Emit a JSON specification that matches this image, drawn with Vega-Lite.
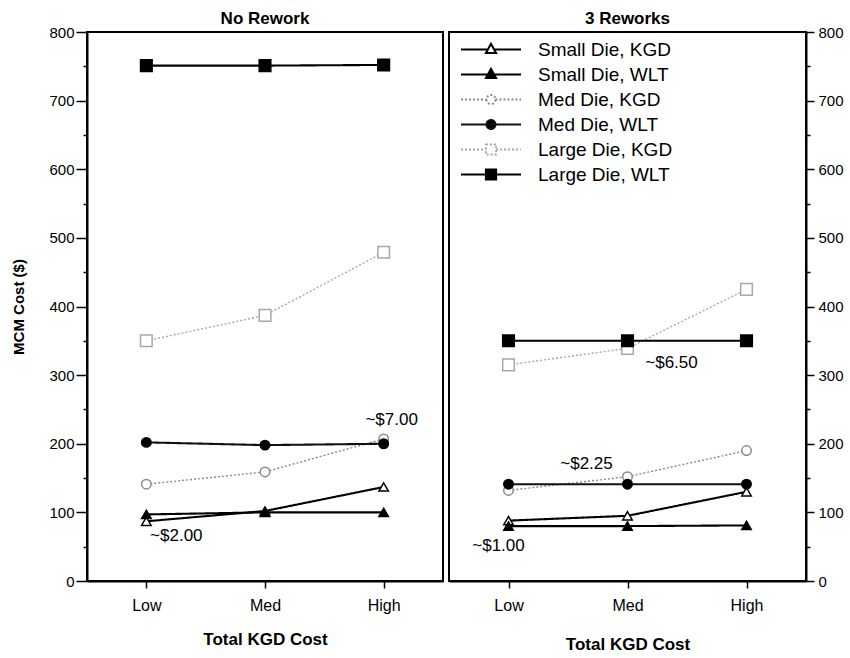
{
  "$schema": "https://vega.github.io/schema/vega-lite/v6.json",
  "background": "white",
  "padding": {"left": 10, "top": 9, "right": 0, "bottom": 0},
  "spacing": 4,
  "config": {
    "font": "Liberation Sans",
    "view": {"stroke": "black", "strokeWidth": 2},
    "axis": {"grid": false, "domainColor": "black", "domainWidth": 2, "tickColor": "black", "tickWidth": 1.5, "labelColor": "black", "titleColor": "black", "labelFont": "Liberation Sans", "titleFont": "Liberation Sans"},
    "title": {"fontSize": 17, "fontWeight": "bold", "color": "black", "font": "Liberation Sans", "offset": -3}
  },
  "datasets": {
    "series": [
      {"panel": "No Rework", "s": "Small Die, KGD", "level": "Low", "cost": 87},
      {"panel": "No Rework", "s": "Small Die, KGD", "level": "Med", "cost": 102},
      {"panel": "No Rework", "s": "Small Die, KGD", "level": "High", "cost": 137},
      {"panel": "No Rework", "s": "Small Die, WLT", "level": "Low", "cost": 97},
      {"panel": "No Rework", "s": "Small Die, WLT", "level": "Med", "cost": 100},
      {"panel": "No Rework", "s": "Small Die, WLT", "level": "High", "cost": 100},
      {"panel": "No Rework", "s": "Med Die, KGD", "level": "Low", "cost": 141},
      {"panel": "No Rework", "s": "Med Die, KGD", "level": "Med", "cost": 159},
      {"panel": "No Rework", "s": "Med Die, KGD", "level": "High", "cost": 207},
      {"panel": "No Rework", "s": "Med Die, WLT", "level": "Low", "cost": 202},
      {"panel": "No Rework", "s": "Med Die, WLT", "level": "Med", "cost": 198},
      {"panel": "No Rework", "s": "Med Die, WLT", "level": "High", "cost": 200},
      {"panel": "No Rework", "s": "Large Die, KGD", "level": "Low", "cost": 350},
      {"panel": "No Rework", "s": "Large Die, KGD", "level": "Med", "cost": 387},
      {"panel": "No Rework", "s": "Large Die, KGD", "level": "High", "cost": 479},
      {"panel": "No Rework", "s": "Large Die, WLT", "level": "Low", "cost": 751},
      {"panel": "No Rework", "s": "Large Die, WLT", "level": "Med", "cost": 751},
      {"panel": "No Rework", "s": "Large Die, WLT", "level": "High", "cost": 752},
      {"panel": "3 Reworks", "s": "Small Die, KGD", "level": "Low", "cost": 88},
      {"panel": "3 Reworks", "s": "Small Die, KGD", "level": "Med", "cost": 95},
      {"panel": "3 Reworks", "s": "Small Die, KGD", "level": "High", "cost": 130},
      {"panel": "3 Reworks", "s": "Small Die, WLT", "level": "Low", "cost": 80},
      {"panel": "3 Reworks", "s": "Small Die, WLT", "level": "Med", "cost": 80},
      {"panel": "3 Reworks", "s": "Small Die, WLT", "level": "High", "cost": 81},
      {"panel": "3 Reworks", "s": "Med Die, KGD", "level": "Low", "cost": 132},
      {"panel": "3 Reworks", "s": "Med Die, KGD", "level": "Med", "cost": 152},
      {"panel": "3 Reworks", "s": "Med Die, KGD", "level": "High", "cost": 190},
      {"panel": "3 Reworks", "s": "Med Die, WLT", "level": "Low", "cost": 141},
      {"panel": "3 Reworks", "s": "Med Die, WLT", "level": "Med", "cost": 141},
      {"panel": "3 Reworks", "s": "Med Die, WLT", "level": "High", "cost": 141},
      {"panel": "3 Reworks", "s": "Large Die, KGD", "level": "Low", "cost": 315},
      {"panel": "3 Reworks", "s": "Large Die, KGD", "level": "Med", "cost": 339},
      {"panel": "3 Reworks", "s": "Large Die, KGD", "level": "High", "cost": 425},
      {"panel": "3 Reworks", "s": "Large Die, WLT", "level": "Low", "cost": 350},
      {"panel": "3 Reworks", "s": "Large Die, WLT", "level": "Med", "cost": 350},
      {"panel": "3 Reworks", "s": "Large Die, WLT", "level": "High", "cost": 350}
    ],
    "notes": [
      {"panel": "No Rework", "level": "High", "cost": 235, "label": "~$7.00"},
      {"panel": "No Rework", "level": "Low", "cost": 66, "label": "~$2.00"},
      {"panel": "3 Reworks", "level": "Med", "cost": 318, "label": "~$6.50"},
      {"panel": "3 Reworks", "level": "Med", "cost": 171, "label": "~$2.25"},
      {"panel": "3 Reworks", "level": "Low", "cost": 51, "label": "~$1.00"}
    ]
  },
  "resolve": {
    "scale": {"color": "independent", "strokeDash": "independent", "y": "independent", "x": "independent"},
    "legend": {"color": "independent"}
  },
  "hconcat": [
    {
      "title": {"text": "No Rework"},
      "width": 356,
      "height": 549,
      "encoding": {
        "x": {"field": "level", "type": "ordinal", "sort": ["Low", "Med", "High"], "scale": {"type": "point", "padding": 0.5},
          "axis": {"title": "Total KGD Cost", "titleFontSize": 17, "titleFontWeight": "bold", "labelFontSize": 16, "labelAngle": 0, "tickSize": 7, "labelPadding": 9, "titlePadding": 18}},
        "y": {"field": "cost", "type": "quantitative", "scale": {"domain": [0, 800], "nice": false},
          "axis": {"title": "MCM Cost ($)", "titleFontSize": 15, "titleFontWeight": "bold", "titlePadding": 22,
            "values": [0, 50, 100, 150, 200, 250, 300, 350, 400, 450, 500, 550, 600, 650, 700, 750, 800],
            "labelExpr": "datum.value % 100 === 0 ? datum.label : ''", "labelOverlap": false, "labelFontSize": 15, "labelPadding": 2,
            "tickSize": {"condition": {"test": "datum.value % 100 === 0", "value": 11}, "value": 4}}}
      },
      "layer": [
        {
          "data": {"name": "series"},
          "transform": [{"filter": "datum.panel === 'No Rework'"}],
          "mark": {"type": "line"},
          "encoding": {
            "color": {"field": "s", "type": "nominal", "legend": null, "scale": {"domain": ["Small Die, KGD", "Small Die, WLT", "Med Die, KGD", "Med Die, WLT", "Large Die, KGD", "Large Die, WLT"], "range": ["#000000", "#000000", "#8a8a8a", "#111111", "#a8a8a8", "#000000"]}},
            "strokeDash": {"field": "s", "type": "nominal", "legend": null, "scale": {"domain": ["Small Die, KGD", "Small Die, WLT", "Med Die, KGD", "Med Die, WLT", "Large Die, KGD", "Large Die, WLT"], "range": [[1, 0], [1, 0], [2, 2], [1, 0], [2, 2], [1, 0]]}},
            "strokeWidth": {"condition": {"test": "indexof(datum.s, 'KGD') >= 0 && indexof(datum.s, 'Small') < 0", "value": 1.4}, "value": 2.1}
          }
        },
        {
          "data": {"name": "series"},
          "transform": [{"filter": "datum.panel === 'No Rework'"}],
          "mark": {"type": "point", "filled": true, "opacity": 1, "strokeWidth": 1.5},
          "encoding": {
            "shape": {"condition": [{"test": "indexof(datum.s, 'Small') >= 0", "value": "triangle-up"}, {"test": "indexof(datum.s, 'Med') >= 0", "value": "circle"}], "value": "square"},
            "fill": {"condition": {"test": "indexof(datum.s, 'WLT') >= 0", "value": "black"}, "value": "white"},
            "stroke": {"condition": [{"test": "datum.s === 'Med Die, KGD'", "value": "#8a8a8a"}, {"test": "datum.s === 'Large Die, KGD'", "value": "#a8a8a8"}], "value": "black"},
            "size": {"condition": {"test": "indexof(datum.s, 'Large') >= 0", "value": 135}, "value": 90}
          }
        },
        {
          "data": {"name": "notes"},
          "transform": [{"filter": "datum.label === '~$7.00'"}],
          "mark": {"type": "text", "fontSize": 17, "color": "black", "dx": 8},
          "encoding": {"text": {"field": "label"}}
        },
        {
          "data": {"name": "notes"},
          "transform": [{"filter": "datum.label === '~$2.00'"}],
          "mark": {"type": "text", "fontSize": 17, "color": "black", "dx": 30},
          "encoding": {"text": {"field": "label"}}
        }
      ]
    },
    {
      "title": {"text": "3 Reworks"},
      "width": 357,
      "height": 549,
      "encoding": {
        "x": {"field": "level", "type": "ordinal", "sort": ["Low", "Med", "High"], "scale": {"type": "point", "padding": 0.5},
          "axis": {"title": "Total KGD Cost", "titleFontSize": 17, "titleFontWeight": "bold", "labelFontSize": 16, "labelAngle": 0, "tickSize": 7, "labelPadding": 9, "titlePadding": 23}},
        "y": {"field": "cost", "type": "quantitative", "scale": {"domain": [0, 800], "nice": false},
          "axis": {"orient": "right", "title": null,
            "values": [0, 50, 100, 150, 200, 250, 300, 350, 400, 450, 500, 550, 600, 650, 700, 750, 800],
            "labelExpr": "datum.value % 100 === 0 ? datum.label : ''", "labelOverlap": false, "labelFontSize": 15, "labelPadding": 4,
            "tickSize": {"condition": {"test": "datum.value % 100 === 0", "value": 8}, "value": 4}}}
      },
      "layer": [
        {
          "data": {"name": "series"},
          "transform": [{"filter": "datum.panel === '3 Reworks'"}],
          "mark": {"type": "line"},
          "encoding": {
            "color": {"field": "s", "type": "nominal",
              "scale": {"domain": ["Small Die, KGD", "Small Die, WLT", "Med Die, KGD", "Med Die, WLT", "Large Die, KGD", "Large Die, WLT"], "range": ["#000000", "#000000", "#8a8a8a", "#111111", "#a8a8a8", "#000000"]},
              "legend": {
                "title": null, "orient": "none", "legendX": 11, "legendY": 5, "padding": 0, "rowPadding": 0,
                "symbolSize": 3600, "clipHeight": 25, "symbolStrokeWidth": 2,
                "labelFontSize": 19, "labelOffset": 16, "labelLimit": 300, "labelColor": "black", "labelFont": "Liberation Sans",
                "encoding": {
                  "symbols": {
                    "shape": {"value": {"expr": "['M-1,0H-0.1M0.1,0H1M0,-0.19L0.17,0.12L-0.17,0.12Z','M-1,0H1M0,-0.19L0.17,0.12L-0.17,0.12Z','M-1,0H-0.15M0.15,0H1M0.15,0A0.15,0.15,0,1,1,-0.15,0A0.15,0.15,0,1,1,0.15,0Z','M-1,0H1M0.15,0A0.15,0.15,0,1,1,-0.15,0A0.15,0.15,0,1,1,0.15,0Z','M-1,0H-0.17M0.17,0H1M-0.17,-0.17H0.17V0.17H-0.17Z','M-1,0H1M-0.17,-0.17H0.17V0.17H-0.17Z'][indexof(['Small Die, KGD','Small Die, WLT','Med Die, KGD','Med Die, WLT','Large Die, KGD','Large Die, WLT'], datum.value)]"}},
                    "fill": {"value": {"expr": "indexof(['Small Die, WLT','Med Die, WLT','Large Die, WLT'], datum.value) >= 0 ? 'black' : 'white'"}},
                    "strokeDash": {"value": {"expr": "indexof(['Med Die, KGD','Large Die, KGD'], datum.value) >= 0 ? [2,2] : [1,0]"}},
                    "size": {"value": 3600},
                    "opacity": {"value": 1}
                  }
                }
              }},
            "strokeDash": {"field": "s", "type": "nominal", "legend": null, "scale": {"domain": ["Small Die, KGD", "Small Die, WLT", "Med Die, KGD", "Med Die, WLT", "Large Die, KGD", "Large Die, WLT"], "range": [[1, 0], [1, 0], [2, 2], [1, 0], [2, 2], [1, 0]]}},
            "strokeWidth": {"condition": {"test": "indexof(datum.s, 'KGD') >= 0 && indexof(datum.s, 'Small') < 0", "value": 1.4}, "value": 2.1}
          }
        },
        {
          "data": {"name": "series"},
          "transform": [{"filter": "datum.panel === '3 Reworks'"}],
          "mark": {"type": "point", "filled": true, "opacity": 1, "strokeWidth": 1.5},
          "encoding": {
            "shape": {"condition": [{"test": "indexof(datum.s, 'Small') >= 0", "value": "triangle-up"}, {"test": "indexof(datum.s, 'Med') >= 0", "value": "circle"}], "value": "square"},
            "fill": {"condition": {"test": "indexof(datum.s, 'WLT') >= 0", "value": "black"}, "value": "white"},
            "stroke": {"condition": [{"test": "datum.s === 'Med Die, KGD'", "value": "#8a8a8a"}, {"test": "datum.s === 'Large Die, KGD'", "value": "#a8a8a8"}], "value": "black"},
            "size": {"condition": {"test": "indexof(datum.s, 'Large') >= 0", "value": 135}, "value": 90}
          }
        },
        {
          "data": {"name": "notes"},
          "transform": [{"filter": "datum.label === '~$6.50'"}],
          "mark": {"type": "text", "fontSize": 17, "color": "black", "dx": 44},
          "encoding": {"text": {"field": "label"}}
        },
        {
          "data": {"name": "notes"},
          "transform": [{"filter": "datum.label === '~$2.25'"}],
          "mark": {"type": "text", "fontSize": 17, "color": "black", "dx": -41},
          "encoding": {"text": {"field": "label"}}
        },
        {
          "data": {"name": "notes"},
          "transform": [{"filter": "datum.label === '~$1.00'"}],
          "mark": {"type": "text", "fontSize": 17, "color": "black", "dx": -10},
          "encoding": {"text": {"field": "label"}}
        }
      ]
    }
  ]
}
